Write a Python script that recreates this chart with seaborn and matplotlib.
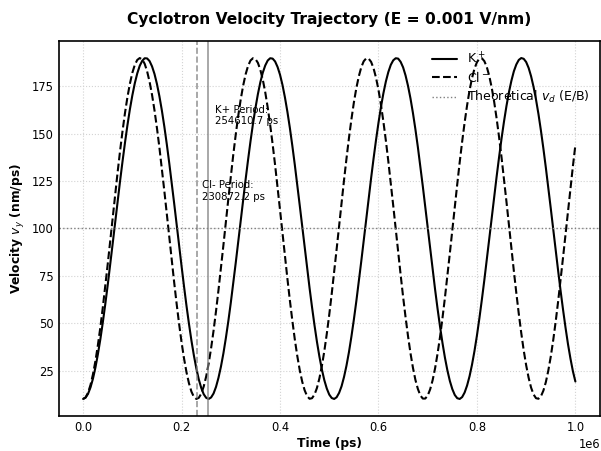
import numpy as np
import pandas as pd
import matplotlib
matplotlib.use("Agg")
import matplotlib.pyplot as plt
import seaborn as sns

# ---- data ----
time_ps = np.arange(0, 1_000_001, 5000)  # sampling grid, ps

vy_k = [10.0,10.7,12.7,16.1,20.7,26.6,33.6,41.5,50.4,60.0,70.2,80.9,91.9,103.0,114.0,124.9,135.3,145.2,154.5,162.9,
        170.3,176.7,181.9,185.9,188.5,189.9,189.8,188.4,185.6,181.6,176.3,169.8,162.3,153.8,144.5,134.5,124.0,113.2,102.1,91.0,
        80.1,69.4,59.2,49.7,40.9,33.0,26.1,20.3,15.8,12.5,10.6,10.0,10.8,12.9,16.4,21.2,27.1,34.1,42.2,51.1,
        60.8,71.1,81.8,92.8,103.9,114.9,125.7,136.1,146.0,155.2,163.5,170.9,177.2,182.3,186.1,188.7,189.9,189.7,188.2,185.3,
        181.2,175.8,169.2,161.6,153.1,143.7,133.7,123.2,112.3,101.3,90.2,79.2,68.6,58.5,49.0,40.2,32.4,25.6,19.9,15.5,
        12.3,10.5,10.0,10.9,13.2,16.7,21.6,27.6,34.7,42.9,51.9,61.6,71.9,82.6,93.6,104.7,115.7,126.5,136.9,146.7,
        155.8,164.1,171.4,177.6,182.6,186.4,188.8,189.9,189.7,188.0,185.1,180.8,175.3,168.7,161.0,152.4,143.0,132.9,122.4,111.5,
        100.4,89.3,78.4,67.8,57.7,48.3,39.6,31.8,25.1,19.5,15.2,12.1,10.4,10.0,11.0,13.4,17.1,22.0,28.1,35.3,
        43.5,52.6,62.4,72.7,83.5,94.5,105.6,116.6,127.4,137.7,147.5,156.5,164.7,171.9,178.0,183.0,186.6,189.0,190.0,189.6,
        187.9,184.8,180.4,174.8,168.1,160.4,151.7,142.2,132.1,121.5,110.6,99.5,88.5,77.6,67.0,57.0,47.6,38.9,31.3,24.6,
        19.2]

vy_cl = [10.0,10.8,13.3,17.4,23.0,30.0,38.4,47.8,58.3,69.5,81.2,93.3,105.6,117.7,129.5,140.8,151.3,160.9,169.3,176.4,
         182.2,186.4,189.0,190.0,189.3,187.0,183.0,177.5,170.6,162.4,153.0,142.7,131.5,119.8,107.7,95.5,83.3,71.5,60.2,49.6,
         39.9,31.4,24.1,18.3,13.9,11.1,10.0,10.6,12.8,16.6,21.9,28.7,36.8,46.1,56.4,67.5,79.2,91.2,103.5,115.6,
         127.5,138.9,149.5,159.3,167.9,175.3,181.3,185.8,188.7,189.9,189.5,187.5,183.8,178.6,171.9,163.9,154.7,144.5,133.5,121.9,
         109.8,97.6,85.4,73.5,62.1,51.4,41.5,32.8,25.3,19.2,14.6,11.5,10.1,10.4,12.3,15.8,20.9,27.4,35.3,44.4,
         54.5,65.5,77.1,89.1,101.3,113.5,125.5,136.9,147.7,157.6,166.5,174.1,180.3,185.1,188.3,189.8,189.7,188.0,184.6,179.6,
         173.2,165.4,156.4,146.4,135.5,124.0,112.0,99.8,87.5,75.6,64.0,53.2,43.2,34.2,26.5,20.1,15.3,11.9,10.2,10.2,
         11.8,15.1,19.9,26.2,33.9,42.7,52.7,63.5,75.0,87.0,99.2,111.4,123.4,135.0,145.9,156.0,165.0,172.9,179.4,184.4,
         187.8,189.7,189.9,188.4,185.3,180.6,174.4,166.9,158.1,148.2,137.5,126.0,114.1,101.9,89.7,77.6,66.0,55.0,44.9,35.7,
         27.8,21.2,16.0,12.4,10.4,10.1,11.4,14.4,18.9,25.0,32.4,41.1,50.9,61.6,73.0,84.9,97.0,109.3,121.3,133.0,
         144.1]

v_drift = 100.0          # theoretical drift velocity E/B, nm/ps
period_k = 254610.7      # ps
period_cl = 230872.2     # ps
series_labels = ['K$^+$', 'Cl$^-$']

# ---- plot ----
sns.set_style("white")
plt.rcParams['text.color'] = 'black'
plt.rcParams['axes.labelcolor'] = 'black'
plt.rcParams['xtick.color'] = 'black'
plt.rcParams['ytick.color'] = 'black'

df = pd.DataFrame({'t': np.concatenate([time_ps, time_ps]),
                   'v': np.concatenate([vy_k, vy_cl]),
                   'ion': [series_labels[0]] * len(time_ps) + [series_labels[1]] * len(time_ps)})

fig = plt.figure(figsize=(6.01, 4.51), dpi=100)
ax = fig.add_axes([58.5/601, 1-416/451, (600-58.5)/601, (416-41)/451])

sns.lineplot(data=df[df.ion == series_labels[0]], x='t', y='v', ax=ax, color='black', lw=1.5, label=series_labels[0])
sns.lineplot(data=df[df.ion == series_labels[1]], x='t', y='v', ax=ax, color='black', lw=1.5, ls='--', label=series_labels[1])
ax.axhline(v_drift, color='gray', ls=':', lw=1.0, label='Theoretical $v_d$ (E/B)')
ax.axvline(period_k, color='gray', ls='-', alpha=0.8, lw=1.2)
ax.axvline(period_cl, color='gray', ls='--', alpha=0.8, lw=1.2)
ax.text(period_k*1.05, 155, f'K+ Period:\n{period_k:.1f} ps', fontsize=7.3)
ax.text(period_cl*1.05, 115, f'Cl- Period:\n{period_cl:.1f} ps', fontsize=7.3)

ax.grid(True, ls=':', color='lightgray', lw=0.8)
ax.tick_params(direction='in', labelsize=8.3, length=3, width=1, pad=3.5)
for s in ax.spines.values():
    s.set_linewidth(1.2)
    s.set_color('black')
ax.xaxis.get_offset_text().set_fontsize(8.3)
ax.set_xlabel('Time (ps)', fontweight='bold', fontsize=8.8, labelpad=2)
ax.set_ylabel('Velocity $v_y$ (nm/ps)', fontweight='bold', fontsize=8.8, labelpad=3)
ax.set_title('Cyclotron Velocity Trajectory (E = 0.001 V/nm)', fontweight='bold', fontsize=11.2, pad=12)
ax.legend(loc='upper right', frameon=False, fontsize=9.0, labelspacing=0.35, borderaxespad=0.4)
fig.savefig("out.png")
